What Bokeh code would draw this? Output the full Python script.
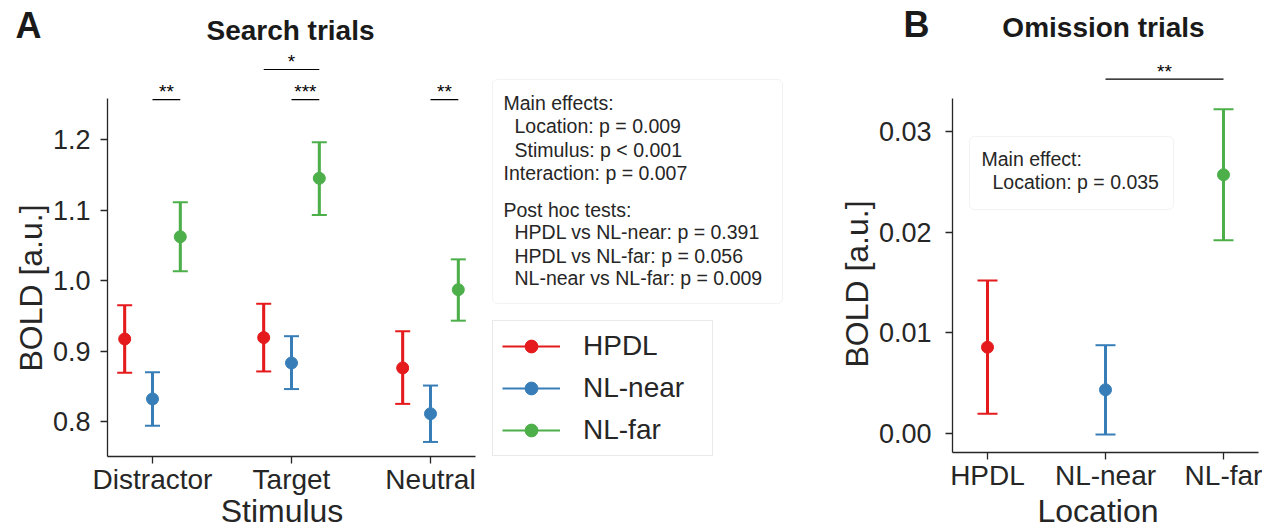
import math
from bokeh.plotting import figure
from bokeh.models import (ColumnDataSource, FixedTicker, Legend, LegendItem, Label,
                          BoxAnnotation, NumeralTickFormatter)
from bokeh.layouts import row
from bokeh.embed import file_html
from bokeh.resources import INLINE
from bokeh.core.properties import value

FONT = "Liberation Sans"
TXT = "#262626"

# ---------------- data ----------------
stimuli = ["Distractor", "Target", "Neutral"]
locations = ["HPDL", "NL-near", "NL-far"]
colors = ["#e41a1c", "#377eb8", "#4daf4a"]

hpdl_mean = [0.917, 0.919, 0.876]
hpdl_low = [0.869, 0.871, 0.825]
hpdl_high = [0.965, 0.967, 0.928]
near_mean = [0.832, 0.883, 0.811]
near_low = [0.794, 0.846, 0.771]
near_high = [0.870, 0.921, 0.851]
far_mean = [1.062, 1.145, 0.987]
far_low = [1.013, 1.093, 0.943]
far_high = [1.111, 1.196, 1.030]

omission_mean = [0.00857, 0.00434, 0.0257]
omission_low = [0.00196, -0.0001, 0.0192]
omission_high = [0.0152, 0.00877, 0.0322]

# significance brackets: (stimulus index, location a, location b, level, stars)
search_sig = [(0, 1, 2, 1.2567, "**"), (1, 1, 2, 1.2567, "***"),
              (1, 0, 2, 1.2993, "*"), (2, 1, 2, 1.2567, "**")]
omission_sig = [(1, 2, 0.0352, "**")]

search_stats = ["Main effects:", "Location: p = 0.009", "Stimulus: p < 0.001",
                "Interaction: p = 0.007", "Post hoc tests:",
                "HPDL vs NL-near: p = 0.391", "HPDL vs NL-far: p = 0.056",
                "NL-near vs NL-far: p = 0.009"]
search_stats_indent = [0, 1, 1, 0, 0, 1, 1, 1]
omission_stats = ["Main effect:", "Location: p = 0.035"]
omission_stats_indent = [0, 1]

search = [(hpdl_mean, hpdl_low, hpdl_high), (near_mean, near_low, near_high),
          (far_mean, far_low, far_high)]
dodge = [-0.2, 0.0, 0.2]

# ---------------- geometry (page pixels) ----------------
WA, WB, H = 830, 432, 529
# each figure's frame covers the whole figure; axes are placed at fixed locations
A_X = ((0 - 152) / 139, (WA - 152) / 139)
A_Y = (0.8 - (H - 421) / 705, 1.2 + 139 / 705)
B_X = ((WA - 987) / 118, (WA + WB - 987) / 118)
B_Y = (0.0 - (H - 433) / 10067, 0.03 + 131 / 10067)


def ax(px):
    return A_X[0] + px / WA * (A_X[1] - A_X[0])


def ay(py):
    return A_Y[0] + (H - py) / H * (A_Y[1] - A_Y[0])


def bx(px):
    return B_X[0] + (px - WA) / WB * (B_X[1] - B_X[0])


def by(py):
    return B_Y[0] + (H - py) / H * (B_Y[1] - B_Y[0])


def style(p, xticks, xlabels, yticks, yfmt, xfix, yfix, xbounds, ybounds, ystandoff):
    p.grid.grid_line_color = None
    p.outline_line_color = None
    p.background_fill_color = "white"
    p.border_fill_color = "white"
    for a in (p.xaxis[0], p.yaxis[0]):
        a.axis_line_color = TXT
        a.axis_line_width = 1.3
        a.major_tick_line_color = TXT
        a.major_tick_line_width = 1.3
        a.major_tick_out = 7
        a.major_tick_in = 0
        a.minor_tick_line_color = None
        a.major_label_text_font = FONT
        a.major_label_text_color = TXT
    p.xaxis.major_label_text_font_size = "28px"
    p.yaxis.major_label_text_font_size = "27px"
    p.xaxis.ticker = FixedTicker(ticks=xticks)
    p.xaxis.major_label_overrides = {i: s for i, s in zip(xticks, xlabels)}
    p.xaxis.major_label_standoff = 0
    p.xaxis.fixed_location = xfix
    p.xaxis.bounds = xbounds
    p.yaxis.ticker = FixedTicker(ticks=yticks)
    p.yaxis.formatter = NumeralTickFormatter(format=yfmt)
    p.yaxis.major_label_standoff = ystandoff
    p.yaxis.fixed_location = yfix
    p.yaxis.bounds = ybounds


def lab(p, conv, px, py, text, size, bold=False, align="left", color=TXT,
        vertical=False):
    """Place a label whose text baseline sits at page pixel (px, py)."""
    shift = 0.36 * size  # rendered baseline sits this far below the anchor
    fx, fy = conv
    if vertical:
        x, y, angle = fx(px - shift), fy(py), math.pi / 2
    else:
        x, y, angle = fx(px), fy(py - shift), 0.0
    p.add_layout(Label(x=x, y=y, text=text, angle=angle,
                       text_font=FONT, text_font_size=f"{size}px",
                       text_font_style="bold" if bold else "normal",
                       text_color=color, text_align=align,
                       text_baseline="alphabetic"))


def make_fig(w, xr, yr):
    return figure(width=w, height=H, x_range=xr, y_range=yr,
                  output_backend="svg", toolbar_location=None,
                  min_border_left=0, min_border_right=0,
                  min_border_top=0, min_border_bottom=0)


CA = (ax, ay)
CB = (bx, by)

# ---------------- panel A ----------------
pA = make_fig(WA, A_X, A_Y)
style(pA, [0, 1, 2], stimuli, [0.8, 0.9, 1.0, 1.1, 1.2], "0.0",
      ay(456), ax(107), (ax(107), ax(475)), (ay(456), ay(98)), 10)

items = []
for k, (m, lo, hi) in enumerate(search):
    xs = [i + dodge[k] for i in range(len(stimuli))]
    src = ColumnDataSource(dict(x=xs, m=m, lo=lo, hi=hi))
    thin = pA.segment(x0="x", y0="lo", x1="x", y1="hi", source=src,
                      line_color=colors[k], line_width=2)
    pA.segment(x0="x", y0="lo", x1="x", y1="hi", source=src,
               line_color=colors[k], line_width=3)
    pA.scatter("x", "lo", source=src, marker="dash", size=15,
               line_color=colors[k], line_width=2)
    pA.scatter("x", "hi", source=src, marker="dash", size=15,
               line_color=colors[k], line_width=2)
    pt = pA.scatter("x", "m", source=src, size=12, fill_color=colors[k],
                    line_color=colors[k])
    items.append(LegendItem(label=locations[k], renderers=[thin, pt]))

sig_src = ColumnDataSource(dict(
    x0=[s + dodge[a] for s, a, b, lv, t in search_sig],
    x1=[s + dodge[b] for s, a, b, lv, t in search_sig],
    xm=[s + (dodge[a] + dodge[b]) / 2 for s, a, b, lv, t in search_sig],
    y=[lv for s, a, b, lv, t in search_sig],
    t=[t for s, a, b, lv, t in search_sig]))
pA.segment(x0="x0", y0="y", x1="x1", y1="y", source=sig_src,
           line_color="black", line_width=1.2)
pA.text(x="xm", y="y", text="t", source=sig_src, text_font=value(FONT),
        text_font_size="19px", text_align="center", text_baseline="alphabetic",
        text_color="black", y_offset=-8)

legend = Legend(items=items, location=(492, H - 456), margin=0, padding=9,
                spacing=10, glyph_width=58, glyph_height=32, label_height=32,
                label_width=120, label_standoff=23,
                label_text_font=FONT, label_text_font_size="28px",
                label_text_color=TXT, border_line_color="#d4d4d4",
                border_line_width=1, background_fill_color="white",
                background_fill_alpha=0.8)
pA.add_layout(legend)

pA.add_layout(BoxAnnotation(left=ax(492), right=ax(782), top=ay(79), bottom=ay(303),
                            fill_color="white", fill_alpha=0.8,
                            line_color="#d4d4d4", line_width=1, border_radius=5))
stat_base = [110, 133, 157, 180, 217, 239, 263, 285]
for t, ind, yb in zip(search_stats, search_stats_indent, stat_base):
    lab(pA, CA, 503 + 11 * ind, yb, t, 19.5)

lab(pA, CA, 15, 38, "A", 36, bold=True, color="#1a1a1a")
lab(pA, CA, 290, 40, "Search trials", 28, bold=True, align="center", color="#1a1a1a")
lab(pA, CA, 281.5, 522, "Stimulus", 32, align="center")
lab(pA, CA, 42, 287.5, "BOLD [a.u.]", 32, align="center", vertical=True)

# ---------------- panel B ----------------
pB = make_fig(WB, B_X, B_Y)
style(pB, [0, 1, 2], locations, [0.0, 0.01, 0.02, 0.03], "0.00",
      by(452), bx(952), (bx(952), bx(1258)), (by(452), by(98)), 14)

for k in range(len(locations)):
    src = ColumnDataSource(dict(x=[k], m=[omission_mean[k]], lo=[omission_low[k]],
                                hi=[omission_high[k]]))
    pB.segment(x0="x", y0="lo", x1="x", y1="hi", source=src,
               line_color=colors[k], line_width=3)
    pB.scatter("x", "lo", source=src, marker="dash", size=20,
               line_color=colors[k], line_width=2)
    pB.scatter("x", "hi", source=src, marker="dash", size=20,
               line_color=colors[k], line_width=2)
    pB.scatter("x", "m", source=src, size=12, fill_color=colors[k],
               line_color=colors[k])

osig = ColumnDataSource(dict(
    x0=[a for a, b, lv, t in omission_sig], x1=[b for a, b, lv, t in omission_sig],
    xm=[(a + b) / 2 for a, b, lv, t in omission_sig],
    y=[lv for a, b, lv, t in omission_sig], t=[t for a, b, lv, t in omission_sig]))
pB.segment(x0="x0", y0="y", x1="x1", y1="y", source=osig,
           line_color="black", line_width=1.2)
pB.text(x="xm", y="y", text="t", source=osig, text_font=value(FONT),
        text_font_size="19px", text_align="center", text_baseline="alphabetic",
        text_color="black", y_offset=-8)

pB.add_layout(BoxAnnotation(left=bx(969), right=bx(1173), top=by(136), bottom=by(209),
                            fill_color="white", fill_alpha=0.8,
                            line_color="#d4d4d4", line_width=1, border_radius=5))
for t, ind, yb in zip(omission_stats, omission_stats_indent, [166, 189]):
    lab(pB, CB, 981 + 11 * ind, yb, t, 19.5)

lab(pB, CB, 903, 37, "B", 36, bold=True, color="#1a1a1a")
lab(pB, CB, 1103, 37, "Omission trials", 28, bold=True, align="center", color="#1a1a1a")
lab(pB, CB, 1097.5, 522, "Location", 32, align="center")
lab(pB, CB, 868, 283.5, "BOLD [a.u.]", 32, align="center", vertical=True)

layout = row(pA, pB)
open("out.html", "w").write(file_html(layout, INLINE))
